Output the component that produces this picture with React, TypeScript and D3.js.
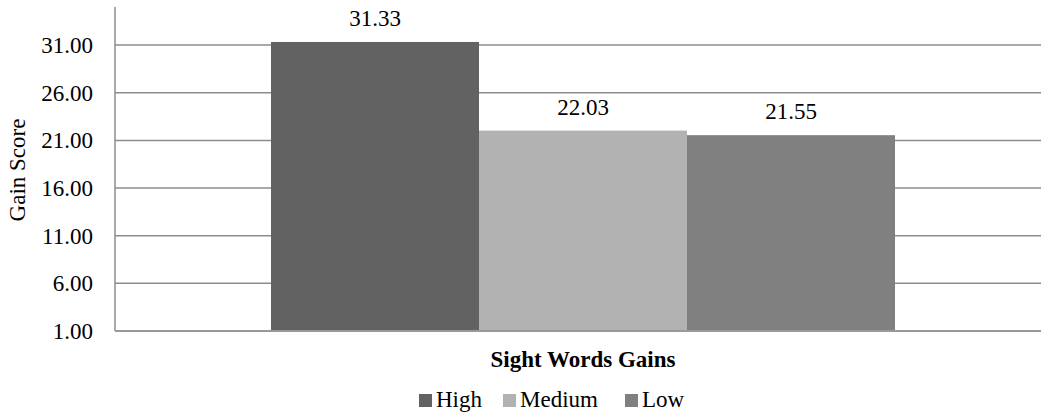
import React from "react";
import * as d3 from "d3";

const categories = ["Sight Words Gains"];
const seriesNames = ["High", "Medium", "Low"];
const seriesValues = [31.33, 22.03, 21.55];
const seriesColors = ["#626262", "#b2b2b2", "#808080"];
const yTicks = [1, 6, 11, 16, 21, 26, 31];
const yDomain = [1, 35];

const W = 1041;
const H = 415;
const plotLeft = 115;
const plotRight = 1051;
const plotTop = 7;
const plotBottom = 331;
const font = '"Liberation Serif", "Times New Roman", Times, serif';
const fs = 23;

export default function App() {
  const y = d3.scaleLinear().domain(yDomain).range([plotBottom, plotTop]);
  const x0 = d3
    .scaleBand<string>()
    .domain(categories)
    .range([plotLeft, plotRight])
    .paddingInner(0)
    .paddingOuter(0.25);
  const x1 = d3
    .scaleBand<string>()
    .domain(seriesNames)
    .range([0, x0.bandwidth()])
    .padding(0);

  const legendItems = [
    { sq: 419, tx: 436 },
    { sq: 503, tx: 520 },
    { sq: 625, tx: 642 },
  ];

  return (
    <svg
      width={W}
      height={H}
      style={{ position: "absolute", left: 0, top: 0, fontFamily: font }}
    >
      <rect width={W} height={H} fill="#ffffff" />
      {/* gridlines */}
      {yTicks.slice(1).map((t) => (
        <line
          key={t}
          x1={plotLeft}
          x2={W}
          y1={y(t)}
          y2={y(t)}
          stroke="#8c8c8c"
          strokeWidth={1.5}
        />
      ))}
      {/* bars */}
      {categories.map((c) => (
        <g key={c} transform={`translate(${x0(c)},0)`}>
          {seriesNames.map((s, i) => (
            <g key={s}>
              <rect
                x={x1(s)}
                y={y(seriesValues[i])}
                width={x1.bandwidth()}
                height={y(yDomain[0]) - y(seriesValues[i])}
                fill={seriesColors[i]}
              />
              <text
                x={(x1(s) as number) + x1.bandwidth() / 2}
                y={y(seriesValues[i]) - 16}
                textAnchor="middle"
                fontSize={fs}
                fill="#000"
              >
                {seriesValues[i].toFixed(2)}
              </text>
            </g>
          ))}
        </g>
      ))}
      {/* axes */}
      <line
        x1={plotLeft}
        x2={plotLeft}
        y1={plotTop}
        y2={plotBottom}
        stroke="#8c8c8c"
        strokeWidth={1.5}
      />
      <line
        x1={plotLeft}
        x2={W}
        y1={plotBottom}
        y2={plotBottom}
        stroke="#999999"
        strokeWidth={2}
      />
      {yTicks.map((t) => (
        <text
          key={t}
          x={93}
          y={y(t)}
          dy="0.35em"
          textAnchor="end"
          fontSize={fs}
          fill="#000"
        >
          {t.toFixed(2)}
        </text>
      ))}
      <text
        transform={`translate(25,170) rotate(-90)`}
        textAnchor="middle"
        fontSize={fs}
        fill="#000"
      >
        Gain Score
      </text>
      {categories.map((c) => (
        <text
          key={c}
          x={(x0(c) as number) + x0.bandwidth() / 2}
          y={367}
          textAnchor="middle"
          fontSize={fs}
          fontWeight="bold"
          fill="#000"
        >
          {c}
        </text>
      ))}
      {/* legend */}
      {seriesNames.map((s, i) => (
        <g key={s}>
          <rect
            x={legendItems[i].sq}
            y={394}
            width={13}
            height={13}
            fill={seriesColors[i]}
          />
          <text x={legendItems[i].tx} y={407} fontSize={fs} fill="#000">
            {s}
          </text>
        </g>
      ))}
    </svg>
  );
}
